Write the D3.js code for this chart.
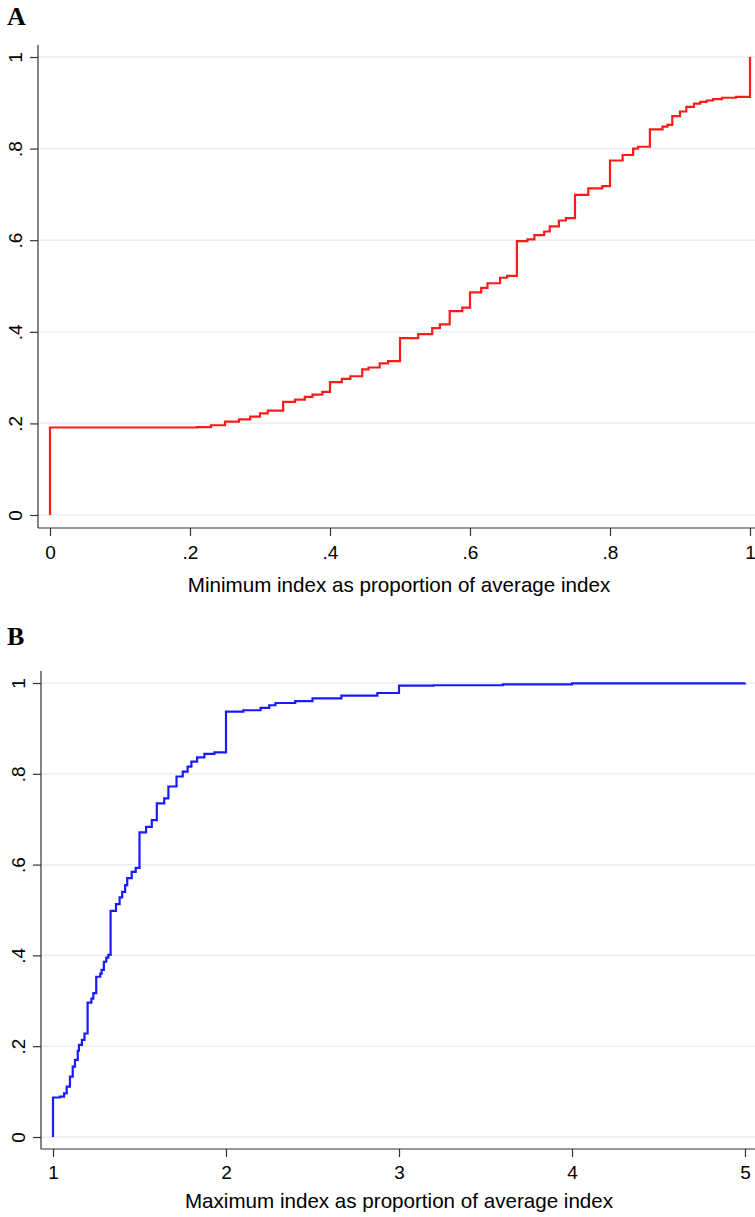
<!DOCTYPE html>
<html lang="en">
<head>
    <meta charset="UTF-8">
    <title>Min / max index CDF</title>
    <script src="https://d3js.org/d3.v7.min.js"></script>
    <style>
        body { margin: 0; background: #fff; }
        svg text { font-family: "Liberation Sans", Arial, sans-serif; fill: #000; }
    </style>
</head>
<body>
<div id="my_dataviz"></div>
<script>

// Panel A: minimum index as proportion of average index (cumulative share)
var minIdx = [0, 0, 0.21, 0.23, 0.25, 0.27, 0.286, 0.30, 0.311, 0.333, 0.35, 0.364, 0.375, 0.389,
    0.40, 0.417, 0.429, 0.446, 0.455, 0.471, 0.483, 0.50, 0.526, 0.546, 0.557, 0.571, 0.589,
    0.60, 0.616, 0.625, 0.643, 0.653, 0.667, 0.682, 0.692, 0.706, 0.714, 0.727, 0.737, 0.75,
    0.769, 0.789, 0.80, 0.818, 0.833, 0.84, 0.857, 0.875, 0.882, 0.889, 0.90, 0.909, 0.92,
    0.929, 0.938, 0.947, 0.96, 0.98, 1.0];
var cdfA = [0, 0.191, 0.192, 0.196, 0.204, 0.209, 0.215, 0.222, 0.228, 0.247, 0.252, 0.258, 0.263, 0.269,
    0.290, 0.297, 0.303, 0.318, 0.322, 0.331, 0.336, 0.386, 0.395, 0.408, 0.416, 0.445, 0.453,
    0.486, 0.496, 0.506, 0.518, 0.522, 0.598, 0.602, 0.611, 0.619, 0.630, 0.643, 0.648, 0.699,
    0.713, 0.718, 0.774, 0.786, 0.800, 0.804, 0.842, 0.848, 0.852, 0.871, 0.881, 0.891, 0.898,
    0.902, 0.905, 0.908, 0.911, 0.913, 1.0];

// Panel B: maximum index as proportion of average index
var maxIdx = [1, 1, 1.04, 1.064, 1.079, 1.098, 1.114, 1.127, 1.143, 1.15, 1.167, 1.182, 1.2, 1.222,
    1.233, 1.25, 1.273, 1.281, 1.294, 1.308, 1.32, 1.333, 1.364, 1.385, 1.4, 1.417, 1.429, 1.455,
    1.478, 1.5, 1.538, 1.571, 1.6, 1.643, 1.667, 1.714, 1.75, 1.778, 1.8, 1.833, 1.875, 1.933,
    2.0, 2.1, 2.2, 2.25, 2.286, 2.4, 2.5, 2.667, 2.875, 3.0, 3.2, 3.6, 4.0, 5.0];
var cdfB = [0, 0.087, 0.089, 0.096, 0.111, 0.133, 0.155, 0.170, 0.190, 0.203, 0.214, 0.228, 0.296, 0.305,
    0.317, 0.353, 0.360, 0.368, 0.386, 0.395, 0.401, 0.498, 0.513, 0.528, 0.540, 0.555, 0.570, 0.584,
    0.593, 0.671, 0.683, 0.698, 0.735, 0.746, 0.772, 0.794, 0.805, 0.816, 0.827, 0.836, 0.844, 0.847,
    0.937, 0.940, 0.945, 0.951, 0.956, 0.960, 0.966, 0.972, 0.978, 0.994, 0.995, 0.997, 0.999, 1.0];

// tick values and labels
var yTicks = [0, 0.2, 0.4, 0.6, 0.8, 1];
var yTickLabels = ["0", ".2", ".4", ".6", ".8", "1"];
var xTicksA = [0, 0.2, 0.4, 0.6, 0.8, 1];
var xTickLabelsA = ["0", ".2", ".4", ".6", ".8", "1"];
var xTicksB = [1, 2, 3, 4, 5];
var xTickLabelsB = ["1", "2", "3", "4", "5"];

var svg = d3.select("#my_dataviz")
    .append("svg")
    .attr("width", 755)
    .attr("height", 1217);

function drawPanel(p) {
    var x = d3.scaleLinear().domain(p.xDomain).range(p.xRange);
    var y = d3.scaleLinear().domain([0, 1]).range(p.yRange);
    var g = svg.append("g");

    // panel letter
    g.append("text")
        .attr("x", 7)
        .attr("y", p.letterY)
        .style("font-family", "'Liberation Serif', 'Times New Roman', serif")
        .style("font-weight", "bold")
        .style("font-size", "26px")
        .text(p.letter);

    // grid lines
    g.selectAll(".grid")
        .data(yTicks)
        .enter()
        .append("line")
            .attr("x1", p.axisX)
            .attr("x2", 755)
            .attr("y1", function(d) { return y(d); })
            .attr("y2", function(d) { return y(d); })
            .style("stroke", "#e8f0f3")
            .style("stroke-width", 1.6);

    // y axis
    var yAxis = g.append("g")
        .attr("transform", "translate(" + p.axisX + ",0)")
        .call(d3.axisLeft(y).tickValues(yTicks).tickSize(8).tickPadding(0)
            .tickFormat(function(d, i) { return yTickLabels[i]; }));
    yAxis.select(".domain").remove();
    yAxis.selectAll(".tick line").style("stroke", "#333").style("stroke-width", 1.2);
    yAxis.selectAll(".tick text")
        .attr("x", null).attr("dy", null)
        .attr("transform", "translate(" + (p.yLabelX - p.axisX) + ",0) rotate(-90)")
        .attr("text-anchor", "middle")
        .style("font-size", "19px");
    g.append("line")
        .attr("x1", p.axisX).attr("x2", p.axisX)
        .attr("y1", p.yRange[1] - 12).attr("y2", p.axisY)
        .style("stroke", "#333").style("stroke-width", 1.2);

    // x axis
    var xAxis = g.append("g")
        .attr("transform", "translate(0," + p.axisY + ")")
        .call(d3.axisBottom(x).tickValues(p.xTicks).tickSize(8)
            .tickFormat(function(d, i) { return p.xLabels[i]; }));
    xAxis.select(".domain").remove();
    xAxis.selectAll(".tick line").style("stroke", "#333").style("stroke-width", 1.2);
    xAxis.selectAll(".tick text")
        .attr("y", p.xLabelY - p.axisY).attr("dy", null)
        .style("font-size", "19px");
    g.append("line")
        .attr("x1", p.axisX).attr("x2", 755)
        .attr("y1", p.axisY).attr("y2", p.axisY)
        .style("stroke", "#333").style("stroke-width", 1.2);

    // axis title
    g.append("text")
        .attr("x", 399)
        .attr("y", p.titleY)
        .attr("text-anchor", "middle")
        .style("font-size", "20.6px")
        .text(p.title);

    // step line (ecdf)
    var pts = p.xs.map(function(v, i) { return [v, p.ys[i]]; });
    g.append("path")
        .datum(pts)
        .attr("d", d3.line()
            .x(function(d) { return x(d[0]); })
            .y(function(d) { return y(d[1]); })
            .curve(d3.curveStepAfter))
        .style("fill", "none")
        .style("stroke", p.color)
        .style("stroke-width", 2.2);
}

drawPanel({
    letter: "A", letterY: 25,
    xDomain: [0, 1], xRange: [50, 750], yRange: [515, 57],
    axisX: 38, axisY: 528, yLabelX: 22, xLabelY: 559, titleY: 592,
    xTicks: xTicksA, xLabels: xTickLabelsA,
    title: "Minimum index as proportion of average index",
    xs: minIdx, ys: cdfA, color: "#ff1a1a"
});

drawPanel({
    letter: "B", letterY: 645,
    xDomain: [1, 5], xRange: [53, 745], yRange: [1137, 683],
    axisX: 41, axisY: 1149, yLabelX: 25, xLabelY: 1179, titleY: 1208,
    xTicks: xTicksB, xLabels: xTickLabelsB,
    title: "Maximum index as proportion of average index",
    xs: maxIdx, ys: cdfB, color: "#1a1aff"
});

</script>
</body>
</html>
